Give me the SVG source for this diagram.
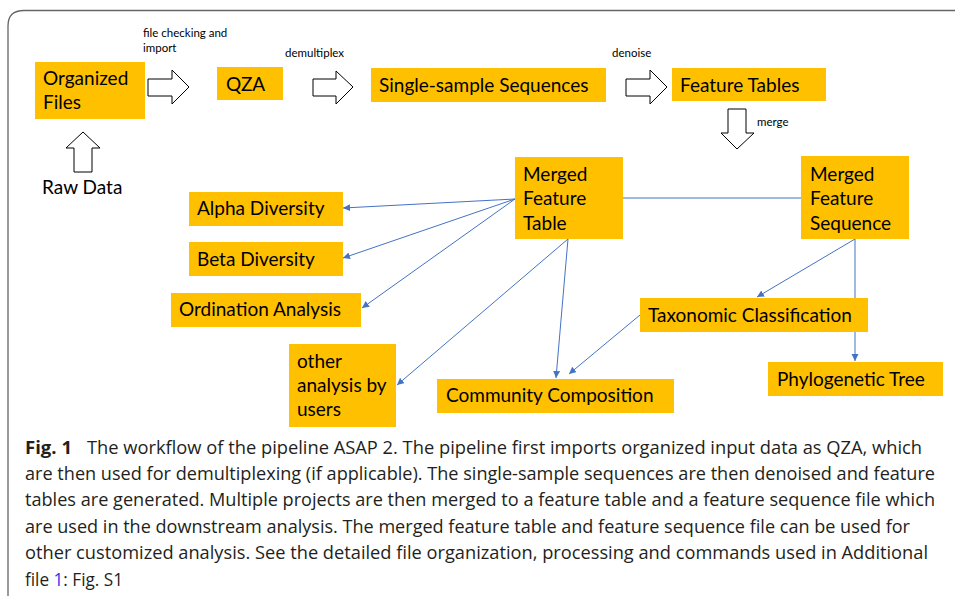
<svg xmlns="http://www.w3.org/2000/svg" width="955" height="599" viewBox="0 0 955 599">
<defs>
<style>
.box{fill:#FFC000}
.t{font-family:Lato,"Liberation Sans",sans-serif;font-size:19px;fill:#000}
.s{font-family:Lato,"Liberation Sans",sans-serif;font-size:11.5px;fill:#000}
.blk{fill:#fff;stroke:#000;stroke-width:1}
.c{fill:none;stroke:#4472C4;stroke-width:1}
.ca{marker-end:url(#ah)}
.cap{font-family:"Open Sans","Liberation Sans",sans-serif;font-size:18px;fill:#231f20}
</style>
<marker id="ah" markerWidth="8" markerHeight="8" refX="7" refY="3.5" orient="auto" markerUnits="userSpaceOnUse">
<path d="M0,0 L7,3.5 L0,7 z" fill="#4472C4"/>
</marker>
</defs>
<rect width="955" height="599" fill="#fff"/>
<path d="M8,596 V26 Q8,10.5 24,10.5 H955" fill="none" stroke="#666" stroke-width="1.3"/>

<g id="connectors">
<path class="c" d="M515,198 H801"/>
<path class="c ca" d="M515,199 L343,208"/>
<path class="c ca" d="M515,199 L343,258"/>
<path class="c ca" d="M515,199 L362,308"/>
<path class="c ca" d="M568,239 L397,385"/>
<path class="c ca" d="M568,239 L556,378"/>
<path class="c ca" d="M640,315 L569,374"/>
<path class="c ca" d="M855,239 L757,297"/>
<path class="c ca" d="M855,239 L855,361"/>
<polygon class="blk" points="148,79 172,79 172,70 189,87 172,104 172,96 148,96"/>
<polygon class="blk" points="313,79 336,79 336,71 353,87 336,104 336,96 313,96"/>
<polygon class="blk" points="626,79 650,79 650,70 667,87 650,104 650,96 626,96"/>
<polygon class="blk" points="728,109 746,109 746,133 754,133 737,149 721,133 728,133"/>
<polygon class="blk" points="83,132 100,148 92,148 92,172 74,172 74,148 66,148"/>
<text class="s" x="143" y="37">file checking and</text>
<text class="s" x="143" y="52">import</text>
<text class="s" x="285" y="57">demultiplex</text>
<text class="s" x="612" y="57">denoise</text>
<text class="s" x="757" y="126">merge</text>
</g>

<g id="organized-files"><rect class="box" x="35" y="62" width="110" height="57"/><text class="t" x="43" y="85">Organized</text><text class="t" x="43" y="109">Files</text></g>
<g id="raw-data"><text class="t" x="42" y="194">Raw Data</text></g>
<g id="qza"><rect class="box" x="217" y="67" width="66" height="33"/><text class="t" x="226" y="91">QZA</text></g>
<g id="single-sample"><rect class="box" x="371" y="68" width="235" height="34"/><text class="t" x="379" y="92">Single-sample Sequences</text></g>
<g id="feature-tables"><rect class="box" x="672" y="68" width="154" height="33"/><text class="t" x="680" y="92">Feature Tables</text></g>
<g id="merged-feature-table"><rect class="box" x="515" y="157" width="108" height="82"/><text class="t" x="523" y="181">Merged</text><text class="t" x="523" y="205">Feature</text><text class="t" x="523" y="230">Table</text></g>
<g id="merged-feature-sequence"><rect class="box" x="801" y="156" width="108" height="83"/><text class="t" x="810" y="181">Merged</text><text class="t" x="810" y="205">Feature</text><text class="t" x="810" y="230">Sequence</text></g>
<g id="alpha"><rect class="box" x="189" y="192" width="154" height="34"/><text class="t" x="197" y="215">Alpha Diversity</text></g>
<g id="beta"><rect class="box" x="189" y="242" width="154" height="34"/><text class="t" x="197" y="266">Beta Diversity</text></g>
<g id="ordination"><rect class="box" x="171" y="293" width="190" height="34"/><text class="t" x="179" y="316">Ordination Analysis</text></g>
<g id="other"><rect class="box" x="289" y="344" width="107" height="83"/><text class="t" x="297" y="368">other</text><text class="t" x="297" y="392">analysis by</text><text class="t" x="297" y="416">users</text></g>
<g id="community"><rect class="box" x="437" y="379" width="237" height="34"/><text class="t" x="446" y="402">Community Composition</text></g>
<g id="taxonomic"><rect class="box" x="640" y="298" width="228" height="34"/><text class="t" x="648" y="322">Taxonomic Classification</text></g>
<g id="phylogenetic"><rect class="box" x="768" y="362" width="175" height="34"/><text class="t" x="777" y="386">Phylogenetic Tree</text></g>

<g id="caption">
<text class="cap" x="25" y="454" font-weight="bold" textLength="47" lengthAdjust="spacingAndGlyphs">Fig. 1</text>
<text class="cap" x="87" y="454" textLength="835" lengthAdjust="spacingAndGlyphs">The workflow of the pipeline ASAP 2. The pipeline first imports organized input data as QZA, which</text>
<text class="cap" x="25" y="480" textLength="910" lengthAdjust="spacingAndGlyphs">are then used for demultiplexing (if applicable). The single-sample sequences are then denoised and feature</text>
<text class="cap" x="25" y="506" textLength="910" lengthAdjust="spacingAndGlyphs">tables are generated. Multiple projects are then merged to a feature table and a feature sequence file which</text>
<text class="cap" x="25" y="533" textLength="885" lengthAdjust="spacingAndGlyphs">are used in the downstream analysis. The merged feature table and feature sequence file can be used for</text>
<text class="cap" x="25" y="559" textLength="903" lengthAdjust="spacingAndGlyphs">other customized analysis. See the detailed file organization, processing and commands used in Additional</text>
<text class="cap" x="25" y="586" textLength="98" lengthAdjust="spacingAndGlyphs">file <tspan fill="#3333ee">1</tspan>: Fig. S1</text>
</g>
</svg>
